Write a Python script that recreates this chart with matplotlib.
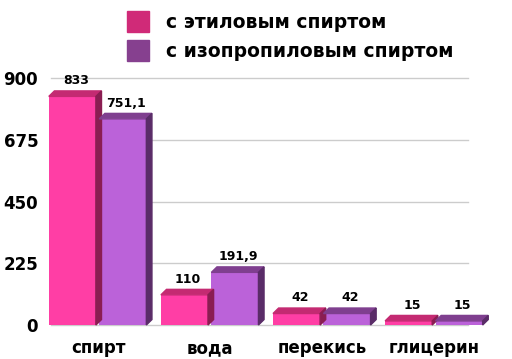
import numpy as np
import matplotlib.pyplot as plt
from matplotlib.patches import Polygon, Patch

categories = ['спирт', 'вода', 'перекись', 'глицерин']
ethyl = [833, 110, 42, 15]
isopropyl = [751.1, 191.9, 42, 15]
ethyl_labels = ['833', '110', '42', '15']
isopropyl_labels = ['751,1', '191,9', '42', '15']
series_names = ['с этиловым спиртом', 'с изопропиловым спиртом']
yticks = [0, 225, 450, 675, 900]

front = ['#ff3ea5', '#bb62d9']
top = ['#c42a72', '#7f3f8f']
side = ['#8a1d52', '#5a2c68']
legend_colors = ['#d02a78', '#86408f']

fig = plt.figure(figsize=(5.12, 3.59), dpi=100)
ax = fig.add_axes([0.08, 0.064, 0.878, 0.734])

x = np.arange(len(categories))
w = 0.42
dx = 0.05
dy = 20


def draw_bars(xs, vals, k):
    ax.bar(xs, vals, w, color=front[k], align='edge', zorder=3)
    for xi, v in zip(xs, vals):
        ax.add_patch(Polygon([(xi, v), (xi + w, v), (xi + w + dx, v + dy), (xi + dx, v + dy)],
                             closed=True, color=top[k], zorder=4))
        ax.add_patch(Polygon([(xi + w, 0), (xi + w, v), (xi + w + dx, v + dy), (xi + w + dx, dy)],
                             closed=True, color=side[k], zorder=4))


for g in yticks:
    ax.plot([-0.42, 3.3], [g, g], color='#cccccc', lw=1.0, zorder=1)

draw_bars(x - w - 0.02, ethyl, 0)
draw_bars(x + 0.01, isopropyl, 1)

for xi, v, t in zip(x - w - 0.02, ethyl, ethyl_labels):
    ax.text(xi + w / 2 + 0.03, v + dy + 14, t, ha='center', va='bottom',
            fontsize=9, fontweight='bold', zorder=5)
for xi, v, t in zip(x + 0.01, isopropyl, isopropyl_labels):
    ax.text(xi + w / 2 + 0.03, v + dy + 14, t, ha='center', va='bottom',
            fontsize=9, fontweight='bold', zorder=5)

ax.set_xlim(-0.51, 3.5)
ax.set_ylim(-40, 920)
ax.set_yticks(yticks)
ax.set_yticklabels([str(t) for t in yticks], fontsize=12, fontweight='bold')
ax.set_xticks(x)
ax.set_xticklabels(categories, fontsize=12, fontweight='bold')
ax.tick_params(length=0, pad=2)
for s in ax.spines.values():
    s.set_visible(False)

handles = [Patch(color=c) for c in legend_colors]
fig.legend(handles, series_names, loc='upper left', bbox_to_anchor=(0.215, 1.015),
           frameon=False, prop={'size': 13.5, 'weight': 'bold'},
           handlelength=1.2, handleheight=1.3, labelspacing=0.45, handletextpad=0.9)

fig.savefig('out.png', dpi=100)
